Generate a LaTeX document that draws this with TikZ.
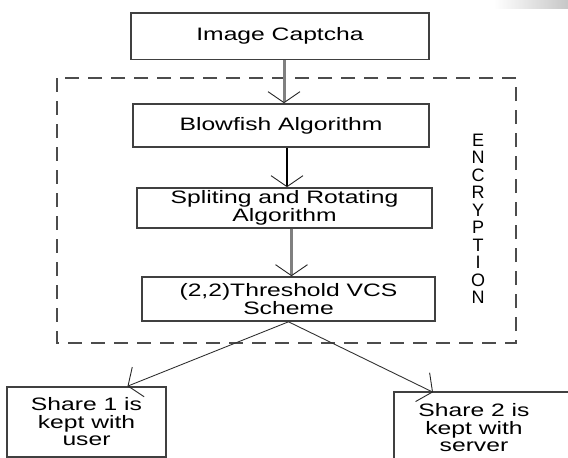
\documentclass[tikz,border=0pt]{standalone}
\usepackage{fontspec}
\setmainfont{Liberation Sans}[FakeStretch=1.37]
\newfontfamily\encfont{Liberation Sans}
\usetikzlibrary{arrows.meta}

\tikzset{
  vtip/.tip={Straight Barb[length=11pt,width=32pt,line width=0.9pt,color=black!85]},
  stepbox/.style={draw=black!75,line width=1.6pt,align=center,inner sep=2pt,
    font={\fontsize{18}{17.5}\selectfont\lineskiplimit=-50pt}},
  stepline/.style={draw=black!75,line width=1.6pt},
  encframe/.style={draw=black!70,line width=1.4pt,dash pattern=on 14pt off 9pt},
  enclabel/.style={align=center,inner sep=0pt,
    font={\encfont\fontsize{18}{17.5}\selectfont\lineskiplimit=-50pt}},
  greyarrow/.style={draw=black!50,line width=3pt,-vtip},
  blackarrow/.style={draw=black,line width=1.6pt,-vtip},
  sharearrow/.style={draw=black!80,line width=0.9pt,-vtip}
}

\begin{document}
\begin{tikzpicture}[x=1pt,y=-1pt]
  \useasboundingbox (0,0) rectangle (568,458);
  \clip (0,0) rectangle (568,458);
  %% smudge top right
  \shade[left color=white,right color=black!22] (494,0) rectangle (568,8);
  %% encryption frame
  \draw[encframe] (57,78) rectangle (516,343);
  \node[enclabel] (enc) at (478,219) {E\\N\\C\\R\\Y\\P\\T\\I\\O\\N};
  %% steps
  \node[stepbox,minimum width=298pt,minimum height=46.5pt] (cap) at (280,36.25) {Image Captcha};
  \node[stepbox,minimum width=296pt,minimum height=43pt] (blow) at (281,125.5) {Blowfish Algorithm};
  \node[stepbox,minimum width=295pt,minimum height=40pt] (split) at (284.5,208) {Spliting and Rotating\\Algorithm};
  \node[stepbox,minimum width=293pt,minimum height=44pt] (thresh) at (288.5,299) {(2,2)Threshold VCS\\Scheme};
  %% shares
  \node[stepbox,minimum width=159pt,minimum height=70pt] (share1) at (86.5,422) {Share 1 is\\kept with\\user};
  \node[stepbox,draw=none,minimum width=158pt,minimum height=70pt] (share2) at (474,428) {Share 2 is\\kept with\\server};
  \draw[stepline] (share2.north west) rectangle ++(190,80);
  %% arrows
  \foreach \a/\b/\s/\d in {cap/blow/greyarrow/4,blow/split/blackarrow/6,split/thresh/greyarrow/7}
    \draw[\s] ([xshift=\d pt]\a.south) -- ([xshift=\d pt]\a.south |- \b.north);
  \draw[sharearrow] (thresh.south) -- ([xshift=41pt]share1.north);
  \draw[sharearrow] (thresh.south) -- ([xshift=-41pt]share2.north);
\end{tikzpicture}
\end{document}
